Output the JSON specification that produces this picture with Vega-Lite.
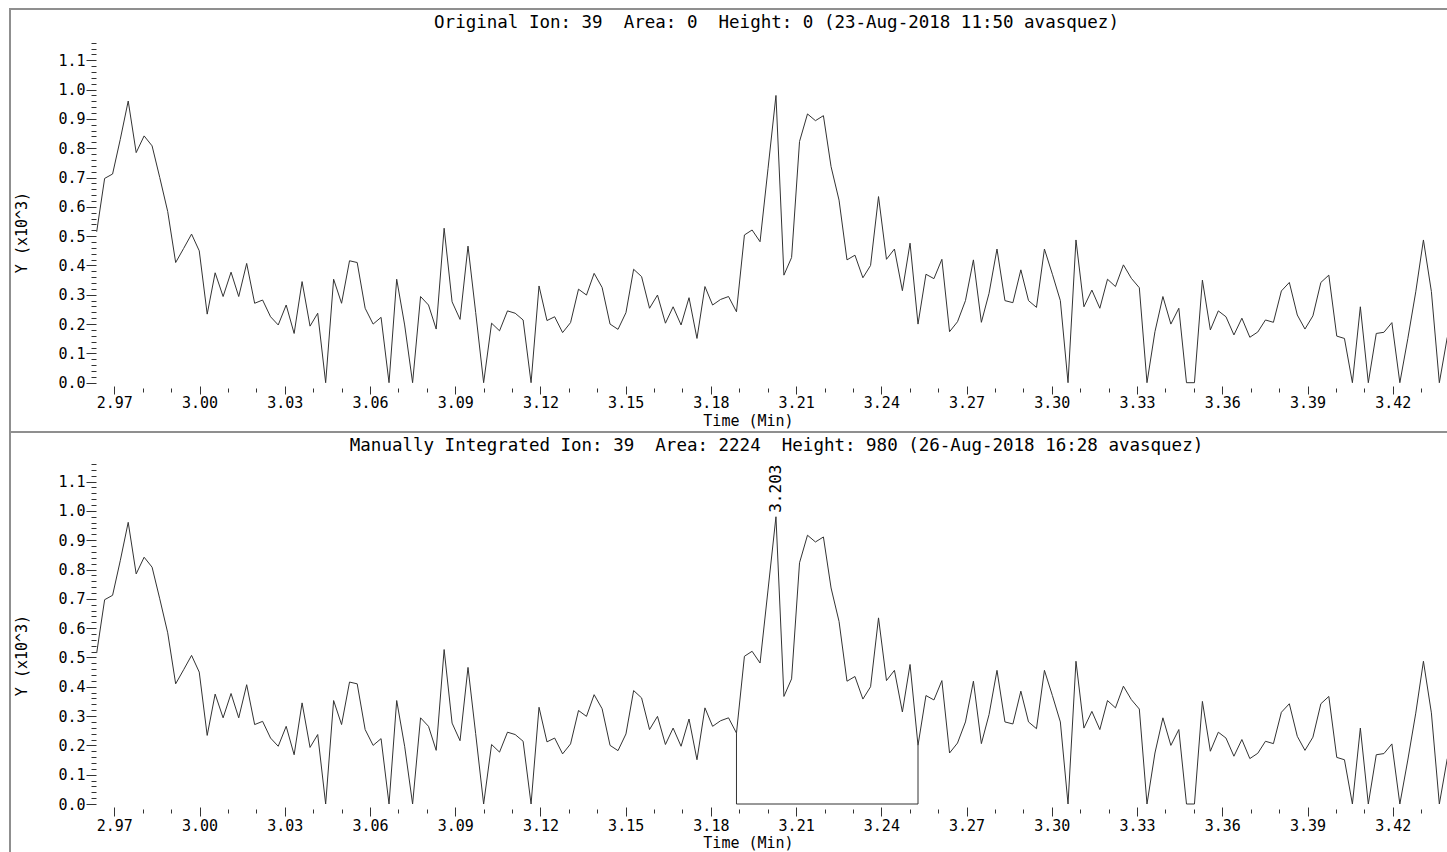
{
"$schema": "https://vega.github.io/schema/vega-lite/v6.json",
"padding": {"left": 9, "top": 8, "right": 0, "bottom": 0},
"spacing": 0,
"bounds": "flush",
"datasets": {
"ion": [
{"t":2.9638,"v":0.515},{"t":2.9666,"v":0.697},{"t":2.9694,"v":0.712},{"t":2.9721,"v":0.83},{"t":2.9749,"v":0.961},
{"t":2.9777,"v":0.785},{"t":2.9805,"v":0.842},{"t":2.9833,"v":0.808},{"t":2.9860,"v":0.70},{"t":2.9888,"v":0.584},
{"t":2.9916,"v":0.410},{"t":2.9944,"v":0.458},{"t":2.9972,"v":0.507},{"t":2.9999,"v":0.450},{"t":3.0027,"v":0.234},
{"t":3.0055,"v":0.375},{"t":3.0083,"v":0.294},{"t":3.0111,"v":0.377},{"t":3.0138,"v":0.294},{"t":3.0166,"v":0.407},
{"t":3.0194,"v":0.271},{"t":3.0222,"v":0.282},{"t":3.0250,"v":0.225},{"t":3.0277,"v":0.197},{"t":3.0305,"v":0.265},
{"t":3.0333,"v":0.168},{"t":3.0361,"v":0.345},{"t":3.0389,"v":0.193},{"t":3.0416,"v":0.237},{"t":3.0444,"v":0.0},
{"t":3.0472,"v":0.353},{"t":3.0500,"v":0.271},{"t":3.0528,"v":0.416},{"t":3.0555,"v":0.410},{"t":3.0583,"v":0.254},
{"t":3.0611,"v":0.200},{"t":3.0639,"v":0.223},{"t":3.0667,"v":0.0},{"t":3.0694,"v":0.353},{"t":3.0722,"v":0.197},
{"t":3.0750,"v":0.0},{"t":3.0778,"v":0.294},{"t":3.0806,"v":0.265},{"t":3.0833,"v":0.183},{"t":3.0861,"v":0.527},
{"t":3.0889,"v":0.276},{"t":3.0917,"v":0.216},{"t":3.0945,"v":0.466},{"t":3.0972,"v":0.24},{"t":3.1000,"v":0.0},
{"t":3.1028,"v":0.203},{"t":3.1056,"v":0.177},{"t":3.1084,"v":0.245},{"t":3.1111,"v":0.237},{"t":3.1139,"v":0.214},
{"t":3.1167,"v":0.0},{"t":3.1195,"v":0.330},{"t":3.1223,"v":0.212},{"t":3.1250,"v":0.225},{"t":3.1278,"v":0.171},
{"t":3.1306,"v":0.205},{"t":3.1334,"v":0.319},{"t":3.1362,"v":0.299},{"t":3.1389,"v":0.373},{"t":3.1417,"v":0.325},
{"t":3.1445,"v":0.200},{"t":3.1473,"v":0.182},{"t":3.1501,"v":0.239},{"t":3.1528,"v":0.387},{"t":3.1556,"v":0.362},
{"t":3.1584,"v":0.254},{"t":3.1612,"v":0.299},{"t":3.1640,"v":0.203},{"t":3.1667,"v":0.259},{"t":3.1695,"v":0.197},
{"t":3.1723,"v":0.290},{"t":3.1751,"v":0.151},{"t":3.1779,"v":0.328},{"t":3.1806,"v":0.265},{"t":3.1834,"v":0.284},
{"t":3.1862,"v":0.294},{"t":3.1890,"v":0.242},{"t":3.1918,"v":0.504},{"t":3.1945,"v":0.521},{"t":3.1973,"v":0.481},
{"t":3.2001,"v":0.73},{"t":3.2029,"v":0.980},{"t":3.2057,"v":0.367},{"t":3.2084,"v":0.427},{"t":3.2112,"v":0.823},
{"t":3.2140,"v":0.917},{"t":3.2168,"v":0.894},{"t":3.2196,"v":0.911},{"t":3.2223,"v":0.737},{"t":3.2251,"v":0.623},
{"t":3.2279,"v":0.419},{"t":3.2307,"v":0.435},{"t":3.2335,"v":0.358},{"t":3.2362,"v":0.400},{"t":3.2390,"v":0.635},
{"t":3.2418,"v":0.421},{"t":3.2446,"v":0.456},{"t":3.2474,"v":0.314},{"t":3.2501,"v":0.476},{"t":3.2529,"v":0.200},
{"t":3.2557,"v":0.370},{"t":3.2585,"v":0.355},{"t":3.2613,"v":0.421},{"t":3.2640,"v":0.174},{"t":3.2668,"v":0.208},
{"t":3.2696,"v":0.280},{"t":3.2724,"v":0.419},{"t":3.2752,"v":0.206},{"t":3.2779,"v":0.305},{"t":3.2807,"v":0.456},
{"t":3.2835,"v":0.280},{"t":3.2863,"v":0.273},{"t":3.2891,"v":0.385},{"t":3.2918,"v":0.280},{"t":3.2946,"v":0.257},
{"t":3.2974,"v":0.456},{"t":3.3002,"v":0.37},{"t":3.3030,"v":0.280},{"t":3.3057,"v":0.0},{"t":3.3085,"v":0.487},
{"t":3.3113,"v":0.259},{"t":3.3141,"v":0.316},{"t":3.3169,"v":0.254},{"t":3.3196,"v":0.353},{"t":3.3224,"v":0.328},
{"t":3.3252,"v":0.402},{"t":3.3280,"v":0.356},{"t":3.3308,"v":0.324},{"t":3.3335,"v":0.0},{"t":3.3363,"v":0.174},
{"t":3.3391,"v":0.294},{"t":3.3419,"v":0.200},{"t":3.3447,"v":0.254},{"t":3.3474,"v":0.0},{"t":3.3502,"v":0.0},
{"t":3.3530,"v":0.350},{"t":3.3558,"v":0.180},{"t":3.3586,"v":0.245},{"t":3.3613,"v":0.225},{"t":3.3641,"v":0.163},
{"t":3.3669,"v":0.220},{"t":3.3697,"v":0.155},{"t":3.3725,"v":0.173},{"t":3.3752,"v":0.214},{"t":3.3780,"v":0.206},
{"t":3.3808,"v":0.313},{"t":3.3836,"v":0.342},{"t":3.3864,"v":0.231},{"t":3.3891,"v":0.183},{"t":3.3919,"v":0.228},
{"t":3.3947,"v":0.342},{"t":3.3975,"v":0.367},{"t":3.4003,"v":0.159},{"t":3.4030,"v":0.151},{"t":3.4058,"v":0.0},
{"t":3.4086,"v":0.259},{"t":3.4114,"v":0.0},{"t":3.4142,"v":0.168},{"t":3.4169,"v":0.172},{"t":3.4197,"v":0.205},
{"t":3.4225,"v":0.0},{"t":3.4253,"v":0.15},{"t":3.4281,"v":0.31},{"t":3.4308,"v":0.487},{"t":3.4336,"v":0.311},
{"t":3.4364,"v":0.0},{"t":3.4392,"v":0.155}
],
"base": [
{"t":3.1890,"v":0.242,"o":1},{"t":3.1890,"v":0.0,"o":2},{"t":3.2529,"v":0.0,"o":3},{"t":3.2529,"v":0.200,"o":4}
],
"peak": [
{"t":3.2029,"v":0.980,"label":"3.203"}
]
},
"vconcat": [
{
"width": 1438,
"height": 423,
"layer": [
{
"data": {"name": "ion"},
"mark": {"type": "line", "color": "#333333", "strokeWidth": 1},
"encoding": {
"x": {"field": "t", "type": "quantitative",
"scale": {"domain": [2.96356, 3.43945], "range": [86, 1438], "nice": false, "zero": false},
"axis": {"orient": "bottom", "offset": -46, "values": [2.97,3.0,3.03,3.06,3.09,3.12,3.15,3.18,3.21,3.24,3.27,3.3,3.33,3.36,3.39,3.42], "format": ".2f", "tickSize": 8, "labelPadding": 1, "labelFlush": false, "labelOverlap": false, "title": "Time (Min)", "titleX": 738, "titleY": 39, "titleAlign": "center", "titleBaseline": "alphabetic"}},
"y": {"field": "v", "type": "quantitative",
"scale": {"domain": [0, 1.16], "range": [373.7, 33.7], "nice": false, "zero": false},
"axis": {"orient": "left", "offset": -86, "values": [0,0.1,0.2,0.3,0.4,0.5,0.6,0.7,0.8,0.9,1.0,1.1], "format": ".1f", "tickSize": 10, "labelPadding": 1, "labelFlush": false, "labelOverlap": false, "title": "Y (x10^3)", "titleX": -75, "titleY": 223, "titleAngle": 270, "titleAlign": "center", "titleBaseline": "middle"}}
}
},
{
"data": {"name": "ion"},
"mark": {"type": "line", "opacity": 0},
"encoding": {
"x": {"field": "t", "type": "quantitative",
"scale": {"domain": [2.96356, 3.43945], "range": [86, 1438], "nice": false, "zero": false},
"axis": {"orient": "bottom", "offset": -44, "values": [2.98,2.99,3.01,3.02,3.04,3.05,3.07,3.08,3.1,3.11,3.13,3.14,3.16,3.17,3.19,3.2,3.22,3.23,3.25,3.26,3.28,3.29,3.31,3.32,3.34,3.35,3.37,3.38,3.4,3.41,3.43], "tickSize": 4, "labels": false,
"title": "Original Ion: 39\u00a0\u00a0Area: 0\u00a0\u00a0Height: 0 (23-Aug-2018 11:50 avasquez)", "titleX": 766, "titleY": -361, "titleAlign": "center", "titleBaseline": "alphabetic", "titleFontSize": 17.5}},
"y": {"field": "v", "type": "quantitative",
"scale": {"domain": [0, 1.16], "range": [373.7, 33.7], "nice": false, "zero": false},
"axis": {"orient": "left", "offset": -86, "values": [0.02,0.04,0.06,0.08,0.12,0.14,0.16,0.18,0.22,0.24,0.26,0.28,0.32,0.34,0.36,0.38,0.42,0.44,0.46,0.48,0.52,0.54,0.56,0.58,0.62,0.64,0.66,0.68,0.72,0.74,0.76,0.78,0.82,0.84,0.86,0.88,0.92,0.94,0.96,0.98,1.02,1.04,1.06,1.08,1.12,1.14,1.16], "tickSize": 5, "labels": false, "title": null}}
}
}
],
"resolve": {"axis": {"x": "independent", "y": "independent"}}
},
{
"width": 1438,
"height": 430,
"layer": [
{
"data": {"name": "ion"},
"mark": {"type": "line", "color": "#333333", "strokeWidth": 1},
"encoding": {
"x": {"field": "t", "type": "quantitative",
"scale": {"domain": [2.96356, 3.43945], "range": [86, 1438], "nice": false, "zero": false},
"axis": {"orient": "bottom", "offset": -55, "values": [2.97,3.0,3.03,3.06,3.09,3.12,3.15,3.18,3.21,3.24,3.27,3.3,3.33,3.36,3.39,3.42], "format": ".2f", "tickSize": 9, "labelPadding": 2, "labelFlush": false, "labelOverlap": false, "title": "Time (Min)", "titleX": 738, "titleY": 40, "titleAlign": "center", "titleBaseline": "alphabetic"}},
"y": {"field": "v", "type": "quantitative",
"scale": {"domain": [0, 1.16], "range": [372, 32], "nice": false, "zero": false},
"axis": {"orient": "left", "offset": -86, "values": [0,0.1,0.2,0.3,0.4,0.5,0.6,0.7,0.8,0.9,1.0,1.1], "format": ".1f", "tickSize": 10, "labelPadding": 1, "labelFlush": false, "labelOverlap": false, "title": "Y (x10^3)", "titleX": -75, "titleY": 223, "titleAngle": 270, "titleAlign": "center", "titleBaseline": "middle"}}
}
},
{
"data": {"name": "ion"},
"mark": {"type": "line", "opacity": 0},
"encoding": {
"x": {"field": "t", "type": "quantitative",
"scale": {"domain": [2.96356, 3.43945], "range": [86, 1438], "nice": false, "zero": false},
"axis": {"orient": "bottom", "offset": -53, "values": [2.98,2.99,3.01,3.02,3.04,3.05,3.07,3.08,3.1,3.11,3.13,3.14,3.16,3.17,3.19,3.2,3.22,3.23,3.25,3.26,3.28,3.29,3.31,3.32,3.34,3.35,3.37,3.38,3.4,3.41,3.43], "tickSize": 4, "labels": false,
"title": "Manually Integrated Ion: 39\u00a0\u00a0Area: 2224\u00a0\u00a0Height: 980 (26-Aug-2018 16:28 avasquez)", "titleX": 766, "titleY": -359, "titleAlign": "center", "titleBaseline": "alphabetic", "titleFontSize": 17.5}},
"y": {"field": "v", "type": "quantitative",
"scale": {"domain": [0, 1.16], "range": [372, 32], "nice": false, "zero": false},
"axis": {"orient": "left", "offset": -86, "values": [0.02,0.04,0.06,0.08,0.12,0.14,0.16,0.18,0.22,0.24,0.26,0.28,0.32,0.34,0.36,0.38,0.42,0.44,0.46,0.48,0.52,0.54,0.56,0.58,0.62,0.64,0.66,0.68,0.72,0.74,0.76,0.78,0.82,0.84,0.86,0.88,0.92,0.94,0.96,0.98,1.02,1.04,1.06,1.08,1.12,1.14,1.16], "tickSize": 5, "labels": false, "title": null}}
}
},
{
"data": {"name": "base"},
"mark": {"type": "line", "color": "#333333", "strokeWidth": 1},
"encoding": {
"x": {"field": "t", "type": "quantitative", "scale": {"domain": [2.96356, 3.43945], "range": [86, 1438], "nice": false, "zero": false}, "axis": null},
"y": {"field": "v", "type": "quantitative", "scale": {"domain": [0, 1.16], "range": [372, 32], "nice": false, "zero": false}, "axis": null},
"order": {"field": "o", "type": "quantitative"}
}
},
{
"data": {"name": "peak"},
"mark": {"type": "text", "angle": 270, "align": "left", "baseline": "middle", "dx": 4, "font": "DejaVu Sans Mono", "fontSize": 16, "color": "#000000"},
"encoding": {
"x": {"field": "t", "type": "quantitative", "scale": {"domain": [2.96356, 3.43945], "range": [86, 1438], "nice": false, "zero": false}, "axis": null},
"y": {"field": "v", "type": "quantitative", "scale": {"domain": [0, 1.16], "range": [372, 32], "nice": false, "zero": false}, "axis": null},
"text": {"field": "label", "type": "nominal"}
}
}
],
"resolve": {"axis": {"x": "independent", "y": "independent"}}
}
],
"config": {
"view": {"stroke": "#8f8f8f", "strokeWidth": 2},
"axis": {"labelFont": "DejaVu Sans Mono", "labelFontSize": 15, "labelColor": "#000000", "titleFont": "DejaVu Sans Mono", "titleFontSize": 15, "titleFontWeight": "normal", "titleColor": "#000000", "tickColor": "#333333", "tickWidth": 1, "domain": false, "grid": false}
}
}
